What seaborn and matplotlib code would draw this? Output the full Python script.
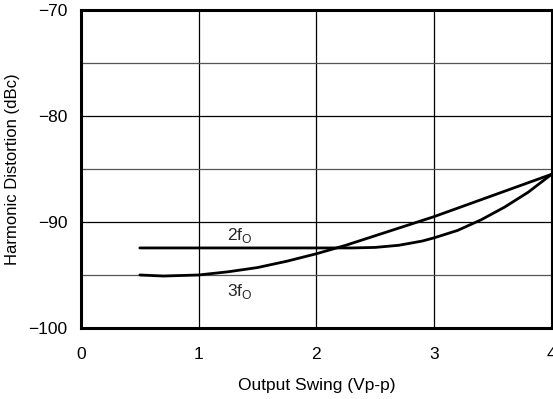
import matplotlib
matplotlib.use("Agg")
import matplotlib.pyplot as plt
import seaborn as sns
import pandas as pd
from matplotlib.ticker import MultipleLocator

sns.set_theme(style="white")
plt.rcParams['font.family'] = ['Liberation Sans', 'DejaVu Sans']
plt.rcParams['axes.unicode_minus'] = True

x_2fo = [0.5, 1.0, 1.5, 2.0, 2.3, 2.5, 2.7, 2.9, 3.0, 3.2, 3.4, 3.6, 3.8, 4.0]
y_2fo = [-92.45, -92.45, -92.45, -92.45, -92.45, -92.4, -92.2, -91.8, -91.5, -90.8, -89.8, -88.6, -87.2, -85.5]
x_3fo = [0.5, 0.7, 1.0, 1.25, 1.5, 1.75, 2.0, 2.25, 2.5, 2.75, 3.0, 3.25, 3.5, 3.75, 4.0]
y_3fo = [-95.0, -95.1, -95.0, -94.7, -94.3, -93.7, -93.0, -92.2, -91.3, -90.4, -89.5, -88.5, -87.5, -86.5, -85.5]
labels = ["2f$_\\mathregular{O}$", "3f$_\\mathregular{O}$"]

df = pd.concat([
    pd.DataFrame({"x": x_2fo, "y": y_2fo, "s": "2fo"}),
    pd.DataFrame({"x": x_3fo, "y": y_3fo, "s": "3fo"}),
])

fig = plt.figure(figsize=(5.53, 3.99), dpi=100)
ax = fig.add_axes([0.1465, 0.178, 0.851, 0.797])
sns.lineplot(data=df, x="x", y="y", units="s", estimator=None, color="black",
             linewidth=2.0, ax=ax, legend=False, sort=True)

ax.set_xlim(0, 4)
ax.set_ylim(-100, -70)
ax.xaxis.set_major_locator(MultipleLocator(1))
ax.yaxis.set_major_locator(MultipleLocator(10))
ax.yaxis.set_minor_locator(MultipleLocator(5))
ax.grid(True, which="major", color="black", linewidth=0.9)
ax.grid(True, which="minor", axis="y", color="#555555", linewidth=0.9)
ax.tick_params(which="both", length=0, labelsize=12.5, colors="black")
ax.tick_params(axis="x", pad=14)
ax.tick_params(axis="y", pad=10)
ax.set_yticks([-70, -80, -90, -100])
ax.set_yticklabels(["\u221270", "\u221280", "\u221290", "\u2212100"])
for s in ["left", "bottom", "top"]:
    ax.spines[s].set_linewidth(2.2)
    ax.spines[s].set_color("black")
ax.spines["right"].set_linewidth(1.5)
ax.spines["right"].set_color("black")

ax.set_xlabel("Output Swing (Vp-p)", fontsize=12.5, color="black", labelpad=11)
ax.set_ylabel("Harmonic Distortion (dBc)", fontsize=12, color="black", labelpad=6)

ax.text(1.35, -91.3, labels[0], fontsize=12.5, ha="center", va="center")
ax.text(1.35, -96.6, labels[1], fontsize=12.5, ha="center", va="center")

fig.savefig("out.png", dpi=100)
